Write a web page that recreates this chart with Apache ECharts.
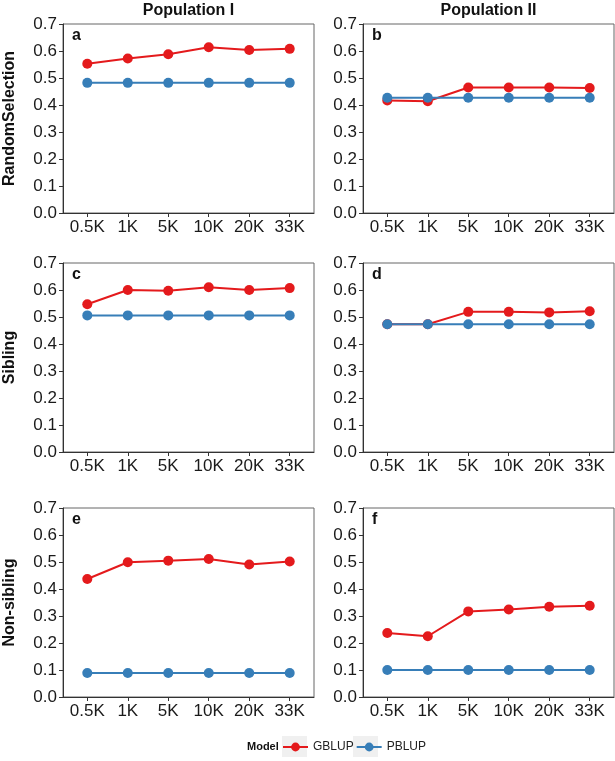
<!DOCTYPE html>
<html>
<head>
<meta charset="utf-8">
<script src="https://cdn.jsdelivr.net/npm/echarts@6/dist/echarts.min.js"></script>
<style>
  html, body { margin: 0; padding: 0; background: #fff; }
  #chart { width: 615px; height: 761px; }
</style>
</head>
<body>
<div id="chart"></div>
<script>
// marker sizes on the x axis
const sizes = ["0.5K", "1K", "5K", "10K", "20K", "33K"];

// Population I
const gblupRandomI = [0.553, 0.572, 0.588, 0.614, 0.604, 0.608];
const pblupRandomI = [0.482, 0.482, 0.482, 0.482, 0.482, 0.482];
const gblupSiblingI = [0.547, 0.600, 0.597, 0.610, 0.600, 0.607];
const pblupSiblingI = [0.506, 0.506, 0.506, 0.506, 0.506, 0.506];
const gblupNonSibI = [0.437, 0.499, 0.505, 0.511, 0.491, 0.502];
const pblupNonSibI = [0.089, 0.089, 0.089, 0.089, 0.089, 0.089];

// Population II
const gblupRandomII = [0.417, 0.414, 0.465, 0.465, 0.465, 0.463];
const pblupRandomII = [0.427, 0.427, 0.427, 0.427, 0.427, 0.427];
const gblupSiblingII = [0.473, 0.473, 0.519, 0.519, 0.517, 0.521];
const pblupSiblingII = [0.473, 0.473, 0.473, 0.473, 0.473, 0.473];
const gblupNonSibII = [0.237, 0.225, 0.317, 0.324, 0.334, 0.338];
const pblupNonSibII = [0.100, 0.100, 0.100, 0.100, 0.100, 0.100];

const rowNames = ["RandomSelection", "Sibling", "Non-sibling"];
const colNames = ["Population I", "Population II"];
const letters = ["a", "b", "c", "d", "e", "f"];

const panels = [
  [gblupRandomI, pblupRandomI], [gblupRandomII, pblupRandomII],
  [gblupSiblingI, pblupSiblingI], [gblupSiblingII, pblupSiblingII],
  [gblupNonSibI, pblupNonSibI], [gblupNonSibII, pblupNonSibII]
];

const RED = "#E41A1C";
const BLUE = "#377EB8";
const FONT = "'Liberation Sans', Arial, Helvetica, sans-serif";

const colLeft = [63, 363];
const rowTop = [24, 263, 508];
const gw = 251, gh = 189;

const chart = echarts.init(document.getElementById("chart"));

let grids = [], xAxes = [], yAxes = [], series = [], graphics = [];
const xTickVals = sizes.map((s, i) => i + 1);

panels.forEach((p, k) => {
  const r = Math.floor(k / 2), c = k % 2;
  grids.push({
    left: colLeft[c], top: rowTop[r], width: gw, height: gh,
    show: true, borderColor: "#666", borderWidth: 1
  });
  xAxes.push({
    gridIndex: k, type: "value", min: 0.4, max: 6.6,
    splitLine: { show: false },
    axisLine: { show: true, onZero: false, lineStyle: { color: "#333", width: 1 } },
    axisTick: { show: true, length: 4, customValues: xTickVals, lineStyle: { color: "#333" } },
    axisLabel: {
      customValues: xTickVals, margin: 6,
      formatter: v => sizes[Math.round(v) - 1],
      color: "#1a1a1a", fontSize: 17, fontFamily: FONT
    }
  });
  yAxes.push({
    gridIndex: k, type: "value", min: 0, max: 0.7, interval: 0.1,
    splitLine: { show: false },
    axisLine: { show: true, lineStyle: { color: "#333", width: 1 } },
    axisTick: { show: true, length: 4, lineStyle: { color: "#333" } },
    axisLabel: {
      formatter: v => v.toFixed(1), margin: 6,
      color: "#1a1a1a", fontSize: 17, fontFamily: FONT
    },
    name: c === 0 ? rowNames[r] : "",
    nameLocation: "middle", nameGap: 45,
    nameTextStyle: { fontSize: 16, fontWeight: "bold", color: "#111", fontFamily: FONT }
  });
  [["GBLUP", p[0], RED], ["PBLUP", p[1], BLUE]].forEach(([nm, vals, col]) => {
    series.push({
      name: nm, type: "line", xAxisIndex: k, yAxisIndex: k,
      data: vals.map((v, i) => [i + 1, v]),
      symbol: "circle", symbolSize: 10, showSymbol: true,
      itemStyle: { color: col }, lineStyle: { color: col, width: 2 },
      emphasis: { disabled: true }, animation: false
    });
  });
  graphics.push({
    type: "text", left: colLeft[c] + 9, top: rowTop[r] + 4,
    style: { text: letters[k], font: "bold 16px " + FONT, fill: "#111" }
  });
});

colNames.forEach((t, c) => {
  graphics.push({
    type: "text", x: colLeft[c] + gw / 2, y: 3,
    style: { text: t, font: "bold 16px " + FONT, fill: "#111", align: "center", verticalAlign: "top" }
  });
});

// legend title and key backgrounds
graphics.push({
  type: "text", x: 247, y: 747,
  style: { text: "Model", font: "bold 11px " + FONT, fill: "#111", verticalAlign: "middle" }
});
graphics.push({ type: "rect", z: -10, shape: { x: 282, y: 736, width: 25, height: 21 }, style: { fill: "#f0f0f0" } });
graphics.push({ type: "rect", z: -10, shape: { x: 353, y: 736, width: 25, height: 21 }, style: { fill: "#f0f0f0" } });

chart.setOption({
  animation: false,
  grid: grids,
  xAxis: xAxes,
  yAxis: yAxes,
  series: series,
  legend: {
    data: ["GBLUP", "PBLUP"], left: 282, top: 741,
    itemWidth: 25, itemHeight: 11, itemGap: 2, padding: 0,
    textStyle: { fontSize: 12, color: "#222", fontFamily: FONT }
  },
  graphic: graphics
});
</script>
</body>
</html>
